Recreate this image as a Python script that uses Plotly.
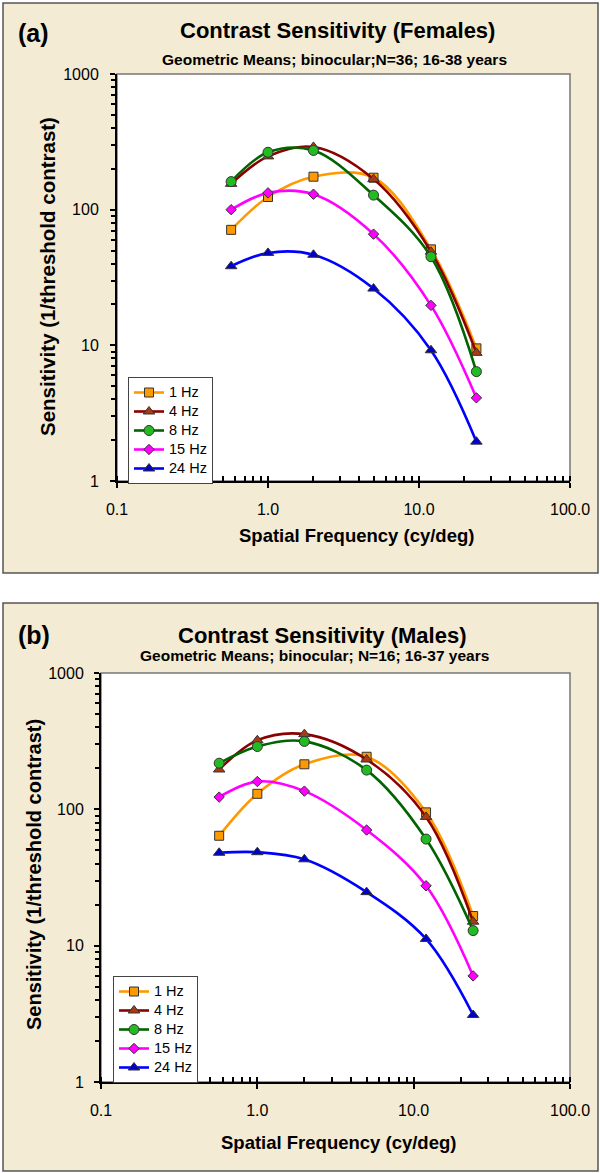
import plotly.graph_objects as go

# ---------------- data ----------------
spatial_freq = [0.57, 1.0, 2.0, 5.0, 12.0, 24.0]
series_names = ["1 Hz", "4 Hz", "8 Hz", "15 Hz", "24 Hz"]

females = {
    "1 Hz":  [71, 124, 175, 172, 51, 9.5],
    "4 Hz":  [155, 247, 290, 168, 49, 8.8],
    "8 Hz":  [161, 265, 273, 128, 45, 6.4],
    "15 Hz": [100, 133, 130, 66, 19.7, 4.1],
    "24 Hz": [38.3, 48, 46.5, 26.2, 9.2, 1.95],
}
males = {
    "1 Hz":  [64, 130, 214, 243, 95, 16.5],
    "4 Hz":  [196, 321, 356, 232, 88, 15],
    "8 Hz":  [218, 289, 315, 194, 60.5, 12.9],
    "15 Hz": [123, 160, 136, 70.5, 27.5, 6.0],
    "24 Hz": [48, 48.5, 43, 24.7, 11.2, 3.1],
}

x_tick_vals = [0.1, 1, 10, 100]
x_tick_text = ["0.1", "1.0", "10.0", "100.0"]
y_tick_vals = [1, 10, 100, 1000]
y_tick_text = ["1", "10", "100", "1000"]

# ---------------- styles ----------------
W, H = 600, 1173
FONT = "Liberation Sans, Arial, Helvetica, sans-serif"
styles = {
    "1 Hz":  dict(line="#FF9900", marker="#FF9900", symbol="square", size=9),
    "4 Hz":  dict(line="#8B0000", marker="#A93A14", symbol="triangle-up", size=10),
    "8 Hz":  dict(line="#006400", marker="#22BB22", symbol="circle", size=10),
    "15 Hz": dict(line="#FF00FF", marker="#FF00FF", symbol="diamond", size=8),
    "24 Hz": dict(line="#0000FF", marker="#0000CC", symbol="triangle-up", size=10),
}
BEIGE = "#F3EBD3"

def px_y(y):
    return 1 - y / H

def px_x(x):
    return x / W

fig = go.Figure()

for data, xa, ya, leg in [(females, "x", "y", "legend"), (males, "x2", "y2", "legend2")]:
    for name in series_names:
        st = styles[name]
        fig.add_trace(go.Scatter(
            x=spatial_freq, y=data[name],
            name=f"<span style='font-size:14.5px'>{name}</span>",
            mode="lines+markers", xaxis=xa, yaxis=ya, legend=leg,
            line=dict(color=st["line"], width=2.6, shape="spline", smoothing=1.0),
            marker=dict(color=st["marker"], symbol=st["symbol"], size=st["size"],
                        line=dict(color="#333333", width=1)),
        ))

# domains (pixels -> paper)
dom_a_x = [px_x(117), px_x(570)]
dom_a_y = [px_y(481), px_y(74)]
dom_b_x = [px_x(101), px_x(570)]
dom_b_y = [px_y(1082), px_y(673)]

tickfont = dict(family=FONT, size=16, color="black")

def xaxis_main(dom, anchor):
    return dict(type="log", range=[-1, 2], domain=dom, anchor=anchor, automargin=False,
                tickvals=x_tick_vals, ticktext=x_tick_text, tickfont=tickfont,
                ticks="outside", ticklen=5, tickwidth=2, tickcolor="black",
                ticklabelstandoff=8,
                minor=dict(ticks="inside", ticklen=5, tickwidth=1.5, tickcolor="black",
                           dtick="D1", showgrid=False),
                showline=True, linecolor="black", linewidth=2,
                showgrid=False, zeroline=False, fixedrange=True)

def yaxis_main(dom, anchor, standoff):
    return dict(type="log", range=[0, 3], domain=dom, anchor=anchor, automargin=False,
                tickvals=y_tick_vals, ticktext=y_tick_text, tickfont=tickfont,
                ticks="outside", ticklen=5, tickwidth=2, tickcolor="black",
                ticklabelstandoff=standoff,
                minor=dict(ticks="outside", ticklen=4, tickwidth=1.5, tickcolor="black",
                           dtick="D1", showgrid=False),
                showline=True, linecolor="black", linewidth=2,
                showgrid=False, zeroline=False, fixedrange=True)

def overlay_x(over, anchor, dom):
    return dict(type="log", range=[-1, 2], overlaying=over, anchor=anchor, domain=dom,
                automargin=False,
                tickvals=x_tick_vals, showticklabels=False, ticks="inside", ticklen=4,
                tickwidth=2, tickcolor="black", showline=False, showgrid=False,
                zeroline=False, fixedrange=True)

def overlay_y(over, anchor, dom):
    return dict(type="log", range=[0, 3], overlaying=over, anchor=anchor, domain=dom,
                automargin=False,
                tickvals=y_tick_vals, showticklabels=False, ticks="inside", ticklen=4,
                tickwidth=2, tickcolor="black", showline=False, showgrid=False,
                zeroline=False, fixedrange=True)

shapes = [
    dict(type="rect", xref="paper", yref="paper", x0=px_x(3), x1=px_x(598),
         y0=px_y(573), y1=px_y(3), fillcolor=BEIGE, line=dict(color="#555555", width=1.5),
         layer="below"),
    dict(type="rect", xref="paper", yref="paper", x0=px_x(3), x1=px_x(598),
         y0=px_y(1171), y1=px_y(603), fillcolor=BEIGE, line=dict(color="#555555", width=1.5),
         layer="below"),
    dict(type="rect", xref="x domain", yref="y domain", x0=0, x1=1, y0=0, y1=1,
         fillcolor="white", line=dict(color="#777777", width=1.5), layer="below"),
    dict(type="rect", xref="x2 domain", yref="y2 domain", x0=0, x1=1, y0=0, y1=1,
         fillcolor="white", line=dict(color="#777777", width=1.5), layer="below"),
]

def ann(text, x, y, size, bold=True, angle=0, xanchor="center"):
    t = f"<b>{text}</b>" if bold else text
    return dict(text=t, x=x, y=y, xref="paper", yref="paper", showarrow=False,
                xanchor=xanchor, yanchor="middle", textangle=angle,
                font=dict(family=FONT, size=size, color="black"))

annotations = [
    ann("(a)", px_x(16), px_y(33), 25, xanchor="left"),
    ann("Contrast Sensitivity (Females)", px_x(337), px_y(31), 22),
    ann("Geometric Means; binocular;N=36; 16-38 years", px_x(334), px_y(59), 15.5),
    ann("Sensitivity (1/threshold contrast)", px_x(47), px_y(277), 20.5, angle=-90),
    ann("Spatial Frequency (cy/deg)", px_x(356), px_y(535), 18.5),
    ann("(b)", px_x(16), px_y(635), 25, xanchor="left"),
    ann("Contrast Sensitivity (Males)", px_x(322), px_y(635), 22),
    ann("Geometric Means; binocular; N=16; 16-37 years", px_x(314), px_y(655), 15.5),
    ann("Sensitivity (1/threshold contrast)", px_x(34), px_y(875), 20, angle=-90),
    ann("Spatial Frequency (cy/deg)", px_x(339), px_y(1142), 18.5),
]

legend_style = dict(bgcolor="white", bordercolor="#444444", borderwidth=1,
                    font=dict(family=FONT, size=12, color="black"),
                    xanchor="left", yanchor="top", tracegroupgap=0, itemwidth=30)

fig.update_layout(
    template="none",
    width=W, height=H, margin=dict(l=0, r=0, t=0, b=0, pad=0),
    paper_bgcolor="white", plot_bgcolor="white",
    xaxis=xaxis_main(dom_a_x, "y"),
    yaxis=yaxis_main(dom_a_y, "x", 8),
    xaxis2=xaxis_main(dom_b_x, "y2"),
    yaxis2=yaxis_main(dom_b_y, "x2", 7),
    xaxis3=overlay_x("x", "y", dom_a_x),
    yaxis3=overlay_y("y", "x", dom_a_y),
    xaxis4=overlay_x("x2", "y2", dom_b_x),
    yaxis4=overlay_y("y2", "x2", dom_b_y),
    legend=dict(x=px_x(128), y=px_y(377), **legend_style),
    legend2=dict(x=px_x(113), y=px_y(976), **legend_style),
    shapes=shapes, annotations=annotations, showlegend=True,
)

fig.write_html(
    "out.html",
    config={"displayModeBar": False},
    post_script="document.body.style.margin='0px';document.body.style.overflow='hidden';",
)
